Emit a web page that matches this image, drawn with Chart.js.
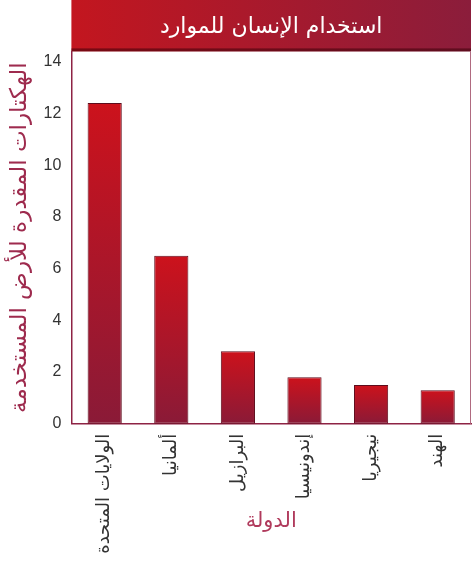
<!DOCTYPE html>
<html lang="ar">
<head>
<meta charset="utf-8">
<script src="https://cdn.jsdelivr.net/npm/chart.js@4/dist/chart.umd.min.js"></script>
<style>
  html, body { margin: 0; padding: 0; background: #fff; }
  #wrap { width: 472px; height: 565px; }
</style>
</head>
<body>
<div id="wrap"><canvas id="landChart"></canvas></div>
<script>
const countries = ['الولايات المتحدة', 'ألمانيا', 'البرازيل', 'إندونيسيا', 'نيجيريا', 'الهند'];
const hectares = [12.4, 6.5, 2.8, 1.8, 1.5, 1.3];
const yTicks = [0, 2, 4, 6, 8, 10, 12, 14];

const chartTitle = 'استخدام الإنسان للموارد';
const yTitle = 'الهكتارات المقدرة للأرض المستخدمة';
const xTitle = 'الدولة';

const maroon = '#8e2344';

// red bar fill, bright at the top of each bar and darker at the base
function barFill(ctx) {
    const chart = ctx.chart;
    if (!chart.chartArea || ctx.dataIndex === undefined) return '#b5172a';
    const y = chart.scales.y;
    const top = y.getPixelForValue(hectares[ctx.dataIndex]);
    const bottom = y.getPixelForValue(0);
    const g = chart.ctx.createLinearGradient(0, top, 0, bottom);
    g.addColorStop(0, '#cc121c');
    g.addColorStop(1, '#8a1a37');
    return g;
}

// banner behind the title and the right-hand frame line
const frame = {
    id: 'frame',
    beforeDraw(chart) {
        const { ctx, chartArea } = chart;
        const g = ctx.createLinearGradient(chartArea.left, 0, chartArea.right, 0);
        g.addColorStop(0, '#c3161f');
        g.addColorStop(1, '#8b1d3b');
        ctx.save();
        ctx.fillStyle = g;
        ctx.fillRect(chartArea.left, 0, chartArea.right - chartArea.left, chartArea.top);
        ctx.fillStyle = 'rgba(60,0,10,0.55)';
        ctx.fillRect(chartArea.left, chartArea.top - 3, chartArea.right - chartArea.left, 3);
        ctx.restore();
    },
    afterDraw(chart) {
        const { ctx, chartArea } = chart;
        ctx.save();
        ctx.strokeStyle = '#b06a80';
        ctx.lineWidth = 1;
        ctx.beginPath();
        ctx.moveTo(chartArea.right - 0.5, chartArea.top);
        ctx.lineTo(chartArea.right - 0.5, chartArea.bottom);
        ctx.stroke();
        ctx.restore();
    }
};

new Chart(document.getElementById('landChart'), {
    type: 'bar',
    data: {
        labels: countries,
        datasets: [{
            data: hectares,
            backgroundColor: barFill,
            borderColor: '#5e0c1c',
            borderWidth: 1,
            borderSkipped: false,
            barPercentage: 0.9,
            categoryPercentage: 0.57
        }]
    },
    options: {
        responsive: true,
        maintainAspectRatio: false,
        animation: false,
        layout: { padding: { left: 0, right: 1, top: 0, bottom: 0 } },
        scales: {
            x: {
                grid: { display: false, drawTicks: false },
                border: { color: maroon, width: 1.5 },
                ticks: {
                    color: '#333',
                    font: { family: 'DejaVu Sans', size: 18 },
                    minRotation: 90,
                    maxRotation: 90,
                    padding: 10
                },
                title: {
                    display: true,
                    text: xTitle,
                    color: '#b03a5c',
                    font: { family: 'DejaVu Sans', size: 21 },
                    padding: { top: -55, bottom: 31 }
                }
            },
            y: {
                min: 0,
                max: 14.4,
                afterBuildTicks: axis => { axis.ticks = yTicks.map(v => ({ value: v })); },
                grid: { display: false, drawTicks: false },
                border: { color: maroon, width: 1.5 },
                ticks: {
                    color: '#333',
                    font: { family: 'Liberation Sans', size: 16 },
                    padding: 10
                },
                title: {
                    display: true,
                    text: yTitle,
                    color: '#9e2b4e',
                    font: { family: 'DejaVu Sans', size: 23 },
                    padding: { top: 6, bottom: 0 }
                }
            }
        },
        plugins: {
            legend: { display: false },
            tooltip: { enabled: false },
            title: {
                display: true,
                text: chartTitle,
                fullSize: false,
                color: '#fff',
                font: { family: 'DejaVu Sans', size: 22, weight: 'normal' },
                padding: { top: 14, bottom: 11 }
            }
        }
    },
    plugins: [frame]
});
</script>
</body>
</html>
